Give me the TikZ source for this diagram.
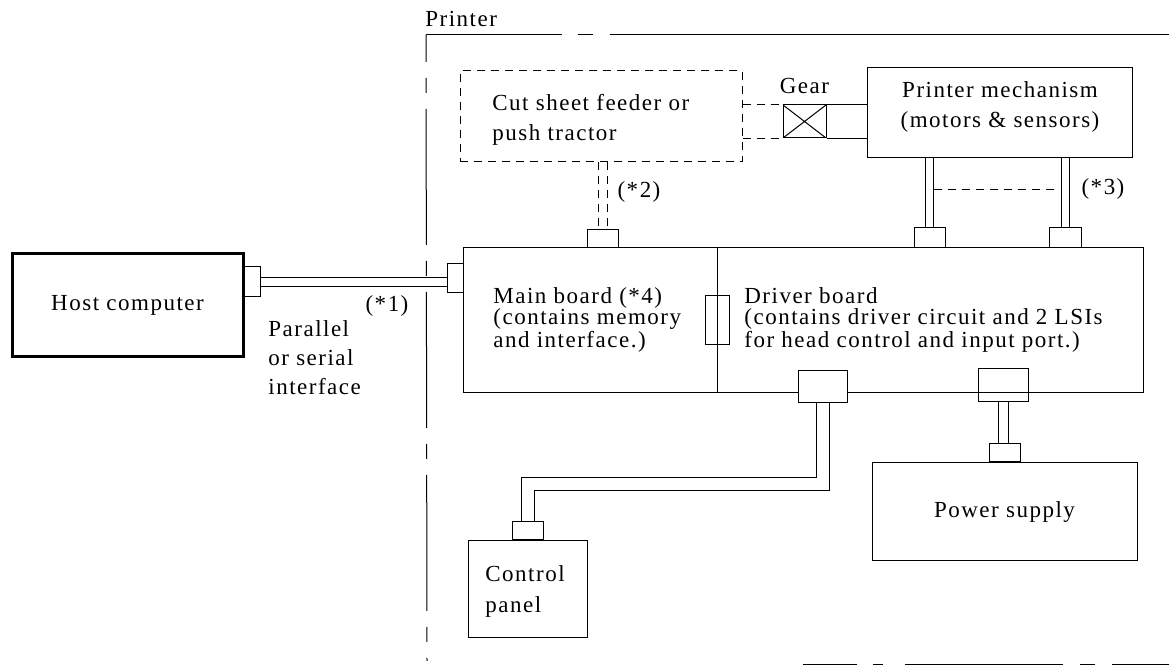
\documentclass[tikz,border=0pt]{standalone}
\usepackage{fontspec}
\setmainfont{Liberation Serif}[LetterSpace=6.5]
\usetikzlibrary{positioning,calc}

\begin{document}
\begin{tikzpicture}[x=0.5pt,y=-0.5pt,
  font=\fontsize{11.5}{15}\selectfont,
  box/.style={draw,rectangle,inner sep=0pt,line width=0.5pt},
  con/.style={box,minimum width=15.5pt,minimum height=9pt},
  fdash/.style={dash pattern=on 4pt off 3pt},
  cable/.style={line width=0.5pt,double,double distance=#1},
  cable/.default=4pt,
  frame/.style={line width=0.5pt,dash pattern=on 68pt off 8pt on 7.5pt off 8pt},
  txt/.style={align=left,inner sep=0pt},
  gearbox/.style={box,path picture={
    \draw (path picture bounding box.north west) -- (path picture bounding box.south east)
          (path picture bounding box.north east) -- (path picture bounding box.south west);}}
]
\useasboundingbox (0,0) rectangle (1169,667);

% printer outline
\node[txt,anchor=base west] (printer) at (425,27) {Printer};
\draw[frame,dash pattern=on 68pt off 8pt on 7.5pt off 8.5pt on 400pt] (426,35) -- (1169,35);
\draw[frame,dash phase=54.5pt] (426,35) -- (427,661);
\draw[frame,dash pattern=on 27pt off 8pt on 5pt off 11pt on 79pt off 8.5pt on 7.5pt off 8.5pt on 100pt] (803,665) -- (1169,665);

% host
\node[box,line width=1.5pt,minimum width=115.5pt,minimum height=51.5pt] (host) at (127.5,305.5) {Host computer};
\node[box,minimum width=8pt,minimum height=15pt] (hostcon) at (252,282) {};

% boards
\node[box,minimum width=127pt,minimum height=72.5pt] (mainb) at (590,320.5) {};
\node[box,minimum width=213pt,minimum height=72.5pt] (drvb) at (930,320.5) {};
\node[box,minimum width=12pt,minimum height=24.5pt] (fuse) at (717,320.5) {};
\node[box,minimum width=8pt,minimum height=14.5pt] (maincon) at (455,278.5) {};
\node[txt,anchor=west,font=\fontsize{11.5}{10.5}\selectfont] (maintxt) at (493,320) {Main board (*4)\\(contains memory\\and interface.)};
\node[txt,anchor=west,font=\fontsize{11.5}{10.5}\selectfont] (drvtxt) at (744,320) {Driver board\\(contains driver circuit and 2 LSIs\\for head control and input port.)};

% feeder, gear, mechanism
\node[box,fdash,minimum width=141pt,minimum height=45.5pt] (feeder) at (601,116.5) {};
\node[txt,anchor=west] (feedtxt) at (492,120) {Cut sheet feeder or\\push tractor};
\node[con,anchor=south] (feedcon) at (602.5,248) {};
\node[gearbox,minimum width=21.5pt,minimum height=16.5pt] (gear) at (804.5,121.5) {};
\node[txt,above=5pt of gear] (gearlbl) {Gear};
\node[box,minimum width=132.5pt,minimum height=45pt] (mech) at (999.5,113) {};
\node[align=center,inner sep=0pt] (mechtxt) at (1000,107) {Printer mechanism\\(motors \& sensors)};
\node[con,anchor=south,minimum height=10pt] (mcl) at (929.5,248) {};
\node[con,anchor=south,minimum width=16pt,minimum height=10pt] (mcr) at (1065,248) {};

% power and control panel
\node[box,minimum width=25pt,minimum height=16.5pt] (pcon) at (1003,385.5) {};
\node[box,fill=white,minimum width=24.5pt,minimum height=16pt] (ccon) at (822.5,387) {};
\node[box,minimum width=132.5pt,minimum height=49pt] (power) at (1004.5,512) {Power supply};
\node[con,above=0pt of power] (pscon) {};
\node[box,minimum width=59.5pt,minimum height=48.5pt] (cpanel) at (527.5,589.5) {};
\node[con,above=0pt of cpanel] (cpcon) {};
\node[txt,anchor=west,font=\fontsize{11.5}{15.5}\selectfont] (cptxt) at (485,591.5) {Control\\panel};

% cables
\draw[cable=4pt] (hostcon.east) -- (hostcon.east -| maincon.west);
\node[txt,anchor=west,font=\fontsize{11.5}{14.5}\selectfont] (iftxt) at (268,358) {Parallel\\or serial\\interface};
\node[inner sep=0pt] (n1) at (387,306) {(*1)};
\draw[cable=4pt,fdash] (feedcon.north |- feeder.south) -- (feedcon.north);
\node[inner sep=0pt] (n2) at (639,192) {(*2)};
\draw[fdash] (feeder.east |- gear.north west) -- (gear.north west);
\draw[fdash] (feeder.east |- gear.south west) -- (gear.south west);
\draw (gear.north east) -- (mech.west |- gear.north east);
\draw (gear.south east) -- (mech.west |- gear.south east);
\draw[cable=3.5pt] (mcl.north) -- (mcl.north |- mech.south);
\draw[cable=3.5pt] (mcr.north) -- (mcr.north |- mech.south);
\coordinate (s3a) at (934,189);
\coordinate (s3b) at (1059,189);
\draw[fdash] (s3a) -- (s3b);
\node[inner sep=0pt] (n3) at (1103,189) {(*3)};
\draw[cable=4.5pt] (pcon.south) -- (pcon.south |- pscon.north);
\coordinate (cbend) at (527.5,484.5);
\draw[cable=6pt] (ccon.south) |- (cbend) -- (cpcon.north);
\end{tikzpicture}
\end{document}
